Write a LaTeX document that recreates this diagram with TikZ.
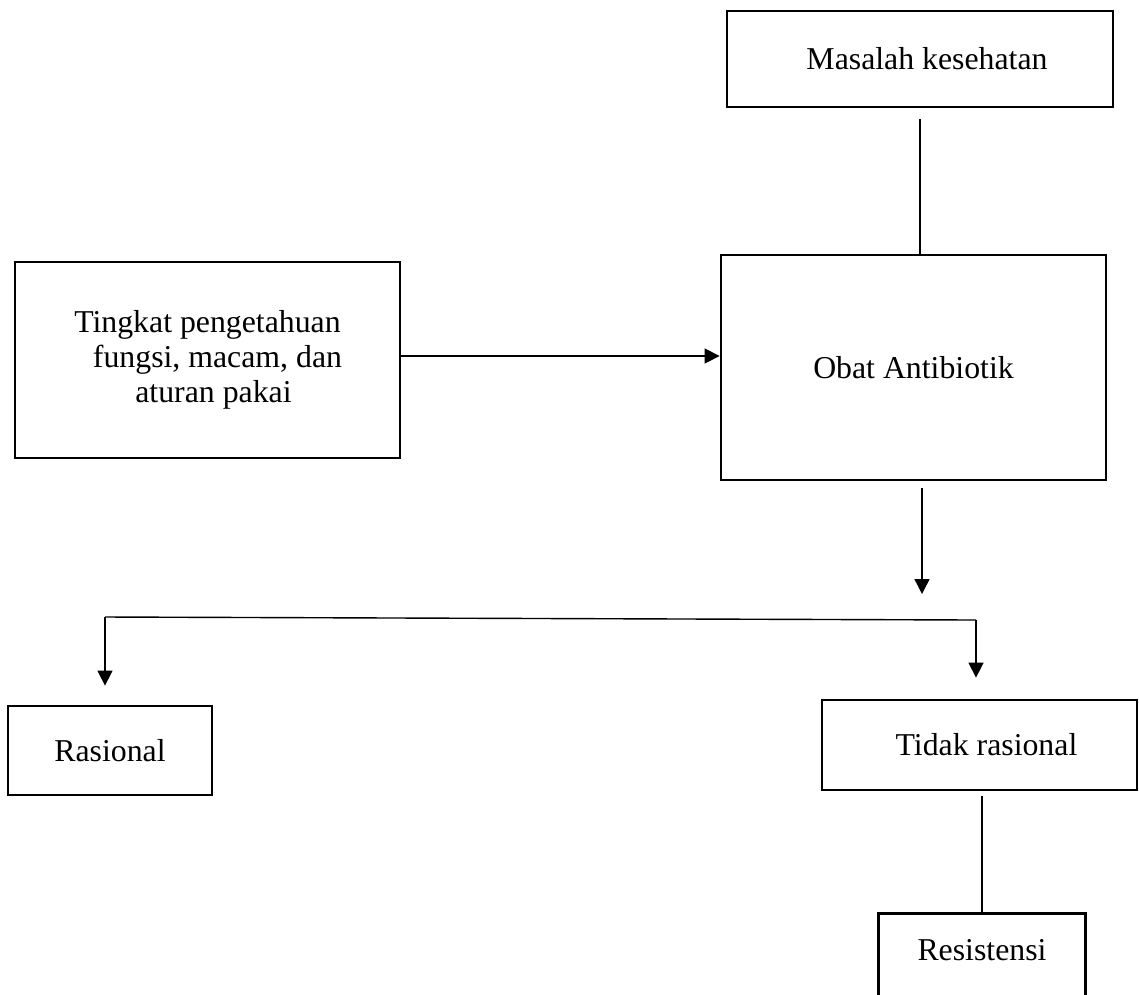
\documentclass[tikz,border=0pt]{standalone}
\usepackage{fontspec}
\setmainfont{Liberation Serif}
\usetikzlibrary{arrows.meta,calc}
\tikzset{
  box/.style={draw, line width=2.8pt, inner sep=0pt, align=center,
    font=\fontsize{31.8pt}{35pt}\selectfont},
  plain/.style={draw=none, inner sep=0pt, align=center,
    font=\fontsize{31.8pt}{35pt}\selectfont},
  conn/.style={line width=1.4pt},
  arr/.style={conn, -{Triangle[length=15pt,width=15pt]}},
  border/.style={line width=2.8pt}
}
\begin{document}
\begin{tikzpicture}[x=1pt,y=-1pt]
\useasboundingbox (0,0) rectangle (1139,994);
\clip (0,0) rectangle (1139,994);
\node[box, minimum width=386pt, minimum height=96pt] (mas) at (920,59) {\hspace*{14pt}Masalah kesehatan};
\node[box, minimum width=385pt, minimum height=225pt] (obat) at (913.5,367.5) {Obat Antibiotik};
\node[box, minimum width=385pt, minimum height=196pt] (ting) at (207.5,360)
  {Tingkat pengetahuan\\\hspace*{20pt}fungsi, macam, dan\\\hspace*{12pt}aturan pakai};
\node[box, minimum width=204pt, minimum height=89pt] (ras) at (110,750.5) {Rasional};
\node[box, minimum width=315pt, minimum height=90pt] (tid) at (979.5,745) {\hspace*{14pt}Tidak rasional};
\node[plain, minimum width=206pt, minimum height=72pt] (res) at (982,950) {Resistensi};
\draw[border] ([yshift=-20pt]res.south west) -- (res.north west) -- (res.north east) -- ([yshift=-20pt]res.south east);
\coordinate (split) at (922,594);
\coordinate (bl) at (105,617);
\coordinate (br) at (976,620);
\draw[conn, shorten <=11pt] (mas.south) -- (mas.south |- obat.north);
\draw[arr] (ting.east |- 0,356) -- (obat.west |- 0,356);
\draw[arr, shorten <=7pt] (obat.south -| split) -- (split);
\draw[conn] (bl) -- (br);
\draw[arr, shorten >=19pt] (bl) -- (bl |- ras.north);
\draw[arr, shorten >=21pt] (br) -- (br |- tid.north);
\draw[conn, shorten <=5pt] (tid.south -| res.north) -- (res.north);
\end{tikzpicture}
\end{document}
